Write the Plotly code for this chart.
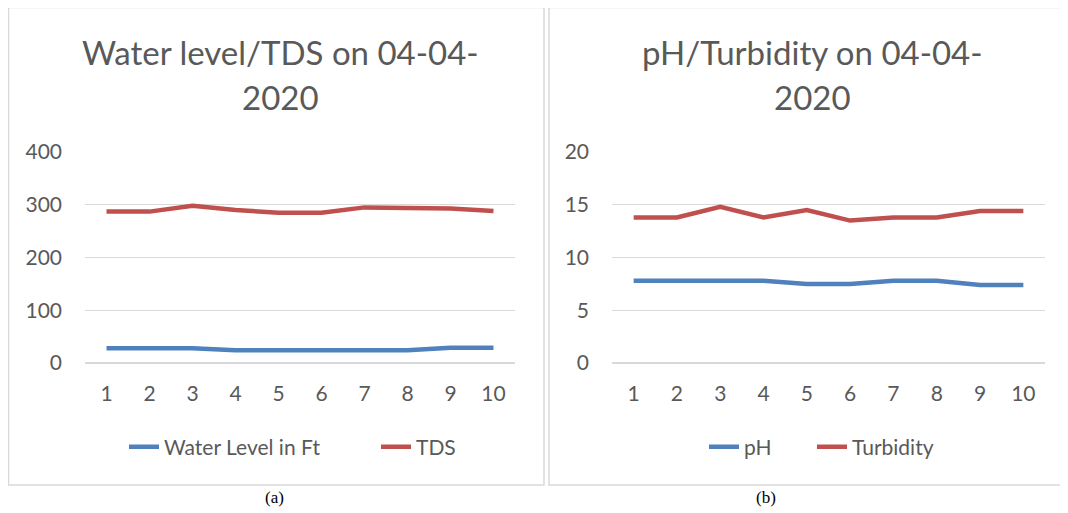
import plotly.graph_objects as go

x_vals = [1, 2, 3, 4, 5, 6, 7, 8, 9, 10]
water_level = [28, 28, 28, 24, 24, 24, 24, 24, 29, 29]
tds = [287, 287, 298, 290, 285, 285, 295, 295, 293, 288]
ph = [7.8, 7.8, 7.8, 7.8, 7.5, 7.5, 7.8, 7.8, 7.4, 7.4]
turbidity = [13.8, 13.8, 14.8, 13.8, 14.5, 13.5, 13.8, 13.8, 14.4, 14.4]

left_ticks = [0, 100, 200, 300, 400]
right_ticks = [0, 5, 10, 15, 20]

# page body has an 8px margin, so the figure is offset by 8px
OFF = 8
W, H = 1068 - OFF, 513 - OFF
BLUE = "#4f81bd"
RED = "#c0504d"
GRID = "#d9d9d9"
TXT = "#595959"
FONT = "Lato"

def px(x):
    return (x - OFF) / W

def py(y):
    return 1 - (y - OFF) / H

fig = go.Figure()
xcat = [str(v) for v in x_vals]
fig.add_trace(go.Scatter(x=xcat, y=water_level, mode="lines", name="Water Level in Ft",
                         line=dict(color=BLUE, width=4.5), xaxis="x", yaxis="y", legend="legend"))
fig.add_trace(go.Scatter(x=xcat, y=tds, mode="lines", name="TDS",
                         line=dict(color=RED, width=4.5), xaxis="x", yaxis="y", legend="legend2"))
fig.add_trace(go.Scatter(x=xcat, y=ph, mode="lines", name="pH",
                         line=dict(color=BLUE, width=4.5), xaxis="x2", yaxis="y2", legend="legend3"))
fig.add_trace(go.Scatter(x=xcat, y=turbidity, mode="lines", name="Turbidity",
                         line=dict(color=RED, width=4.5), xaxis="x2", yaxis="y2", legend="legend4"))

ydom = [py(363), py(152)]
axis_font = dict(family=FONT, size=21, color=TXT)
common_x = dict(type="category", showgrid=False, showline=False, ticks="", tickfont=axis_font,
                zeroline=False, fixedrange=True, automargin=False,
                range=[-0.5, len(x_vals) - 0.5], ticklabelstandoff=16)
common_y = dict(showgrid=True, gridcolor=GRID, gridwidth=1, zeroline=True, zerolinecolor=GRID,
                zerolinewidth=1.5, showline=False,
                ticks="", tickfont=axis_font, fixedrange=True, automargin=False,
                ticklabelstandoff=22)

leg_font = dict(family=FONT, size=21, color=TXT)

def leg(xleft):
    return dict(orientation="h", x=px(xleft), xanchor="left", y=py(447), yanchor="middle",
                font=leg_font, bgcolor="rgba(0,0,0,0)")

fig.update_layout(
    width=W, height=H,
    margin=dict(l=0, r=0, t=0, b=0, autoexpand=False),
    paper_bgcolor="white", plot_bgcolor="white",
    xaxis=dict(domain=[px(85), px(515)], anchor="y", **common_x),
    yaxis=dict(domain=ydom, anchor="x", range=[0, 400], tickvals=left_ticks, **common_y),
    xaxis2=dict(domain=[px(612), px(1045)], anchor="y2", **common_x),
    yaxis2=dict(domain=ydom, anchor="x2", range=[0, 20], tickvals=right_ticks, **common_y),
    legend=leg(124),
    legend2=leg(376),
    legend3=leg(704),
    legend4=leg(812),
    showlegend=True,
)

fig.add_shape(type="rect", xref="paper", yref="paper", x0=px(8.5), x1=px(544), y0=py(485), y1=py(7.5),
              line=dict(color=GRID, width=1.5), layer="below")
fig.add_shape(type="rect", xref="paper", yref="paper", x0=px(549), x1=px(1075), y0=py(485), y1=py(7.5),
              line=dict(color=GRID, width=1.5), layer="below")

title_font = dict(family=FONT, size=33, color=TXT)
for cx, l1 in [(280, "Water level/TDS on 04-04-"), (812, "pH/Turbidity on 04-04-")]:
    fig.add_annotation(text=l1, xref="paper", yref="paper",
                       x=px(cx), y=py(52), xanchor="center", yanchor="middle", showarrow=False,
                       font=title_font)
    fig.add_annotation(text="2020", xref="paper", yref="paper",
                       x=px(cx), y=py(97), xanchor="center", yanchor="middle", showarrow=False,
                       font=title_font)

cap_font = dict(family="Liberation Serif", size=17, color="black")
fig.add_annotation(text="(a)", xref="paper", yref="paper", x=px(274), y=py(497),
                   xanchor="center", yanchor="middle", showarrow=False, font=cap_font)
fig.add_annotation(text="(b)", xref="paper", yref="paper", x=px(766), y=py(497),
                   xanchor="center", yanchor="middle", showarrow=False, font=cap_font)

fig.write_html("out.html")
